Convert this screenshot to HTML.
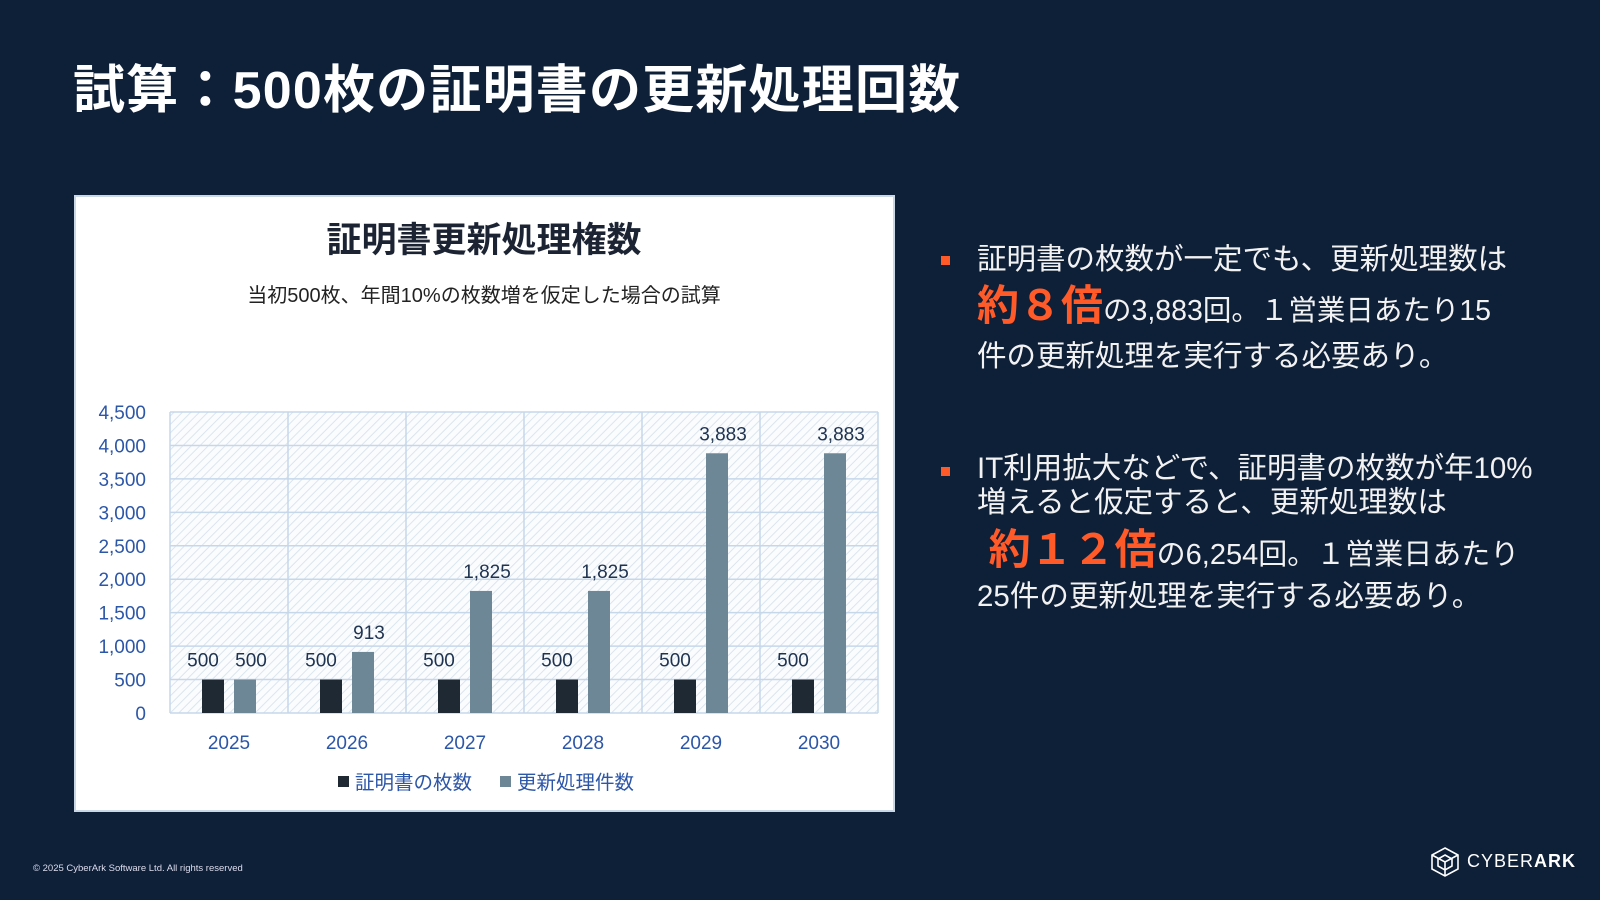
<!DOCTYPE html>
<html><head><meta charset="utf-8">
<style>
body{margin:0;width:1600px;height:900px;background:#0e1f38;overflow:hidden;font-family:"Liberation Sans","Noto Sans CJK JP",sans-serif;position:relative;color:#fff}
.abs{position:absolute}
h1{position:absolute;left:73px;top:48px;margin:0;font-size:52px;font-weight:bold;white-space:nowrap;letter-spacing:1.2px}
.para{position:absolute;left:977px;font-size:29.5px;line-height:46px;width:620px;color:#f2f2f2;white-space:nowrap}
.bul{position:absolute;left:941px;width:9px;height:9px;background:#ff5a28}
.big{color:#ff5a28;font-weight:bold;font-size:42px}
</style></head><body>
<h1>試算：500枚の証明書の更新処理回数</h1>
<svg class="abs" style="left:0;top:0" width="1600" height="900">
<defs><pattern id="hatch" width="6" height="6" patternUnits="userSpaceOnUse" patternTransform="rotate(45)"><rect width="6" height="6" fill="#fbfcfe"/><line x1="0" y1="0" x2="0" y2="6" stroke="#dbe5ef" stroke-width="2"/></pattern></defs>
<rect x="75" y="196" width="819" height="615" fill="#fff" stroke="#c9d7e6" stroke-width="2"/>
<text x="484" y="252" text-anchor="middle" font-size="35" font-weight="bold" fill="#1c2433">証明書更新処理権数</text>
<text x="484" y="302" text-anchor="middle" font-size="20" fill="#222">当初500枚、年間10%の枚数増を仮定した場合の試算</text>
<g id="plot"></g>
<rect x="338" y="776" width="11" height="11" fill="#1f2933"/>
<text x="355" y="789" font-size="19.5" fill="#2c56a8">証明書の枚数</text>
<rect x="500" y="776" width="11" height="11" fill="#6d8796"/>
<text x="517" y="789" font-size="19.5" fill="#2c56a8">更新処理件数</text>
</svg>
<div class="bul" style="top:256px"></div>
<div class="para" style="top:237px">証明書の枚数が一定でも、更新処理数は<br><span class="big">約８倍</span><span style="font-size:28.5px">の3,883回。１営業日あたり15</span><br>件の更新処理を実行する必要あり。</div>
<div class="bul" style="top:467px"></div>
<div class="para" style="top:452px;line-height:34px">IT利用拡大などで、証明書の枚数が年10%<br>増えると仮定すると、更新処理数は<br><span class="big" style="line-height:60px">&nbsp;約１２倍</span><span style="font-size:29px">の6,254回。１営業日あたり</span><br>25件の更新処理を実行する必要あり。</div>
<div class="abs" style="left:33px;top:863px;font-size:9.5px;color:#dde">© 2025 CyberArk Software Ltd. All rights reserved</div>
<svg class="abs" style="left:1430px;top:846px" width="30" height="32"><path d="M15 2 L28 9 L28 23 L15 30 L2 23 L2 9 Z M15 9 L22 13 L22 20 L15 24 L8 20 L8 13 Z M2 9 L15 16 L28 9 M15 16 L15 30" fill="none" stroke="#fff" stroke-width="1.6"/></svg>
<div class="abs" style="left:1467px;top:851px;font-size:18px;letter-spacing:1px;color:#fff">CYBER<b>ARK</b></div>
<script>
const categories=["2025","2026","2027","2028","2029","2030"];
const certs=[500,500,500,500,500,500];
const renewals=[500,913,1825,1825,3883,3883];
const ticks=[0,500,1000,1500,2000,2500,3000,3500,4000,4500];
const NS="http://www.w3.org/2000/svg";
const g=document.getElementById('plot');
const L=170,R=878,T=412,B=713,yMax=4500;
const y=v=>B-(v/yMax)*(B-T);
const cw=(R-L)/categories.length;
const x=i=>L+cw*(i+0.5);
function mk(t,a){const e=document.createElementNS(NS,t);for(const k in a)e.setAttribute(k,a[k]);g.appendChild(e);return e;}
const bg=mk('rect',{x:L,y:T,width:R-L,height:B-T,fill:'url(#hatch)'});


ticks.forEach(t=>{
 const l=mk('line',{x1:L,x2:R,y1:y(t),y2:y(t),stroke:'#c6d7ea','stroke-width':1.5});
 
 
 const tx=mk('text',{x:146,y:y(t)+7,'text-anchor':'end','font-size':19,fill:'#2c56a8'});
 tx.textContent=t.toLocaleString('en-US');
 
 
});
for(let i=0;i<=categories.length;i++){
 const l=mk('line',{x1:L+cw*i,x2:L+cw*i,y1:T,y2:B,stroke:'#c6d7ea','stroke-width':1.5});
 
 
}
const bw=22;
categories.forEach((c,i)=>{
 const cx=x(i);
 const b1=mk('rect',{x:cx-16-bw/2,y:y(certs[i]),width:bw,height:B-y(certs[i]),fill:'#1f2933'});
 
 
 const b2=mk('rect',{x:cx+16-bw/2,y:y(renewals[i]),width:bw,height:B-y(renewals[i]),fill:'#6d8796'});
 
 
 const t1=mk('text',{x:cx-26,y:y(certs[i])-13,'text-anchor':'middle','font-size':19,fill:'#1f3350'});
 t1.textContent=certs[i].toLocaleString('en-US');
 
 
 const t2=mk('text',{x:cx+22,y:y(renewals[i])-13,'text-anchor':'middle','font-size':19,fill:'#1f3350'});
 t2.textContent=renewals[i].toLocaleString('en-US');
 
 
 const xl=mk('text',{x:cx,y:749,'text-anchor':'middle','font-size':19,fill:'#2c56a8'});
 xl.textContent=c;
 
 
});
</script>
</body></html>
